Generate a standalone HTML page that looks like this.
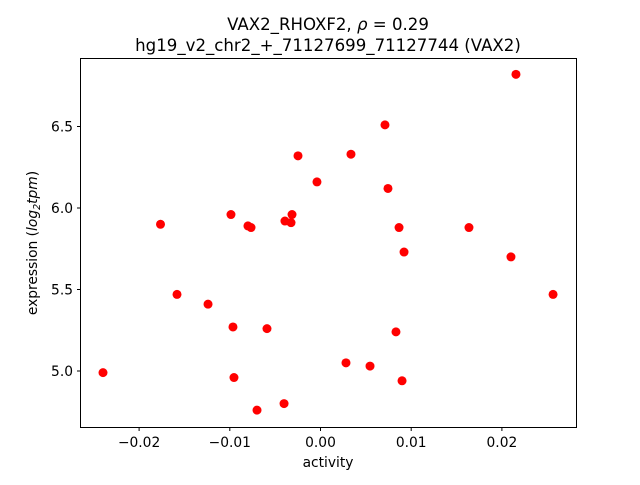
<!DOCTYPE html>
<html><head><meta charset="utf-8"><style>
body{margin:0;background:#fff}
svg text{font-family:"DejaVu Sans","Liberation Sans",sans-serif;fill:#000}
</style></head><body>
<svg id="chart" width="640" height="480" xmlns="http://www.w3.org/2000/svg">
<text x="328" y="30" text-anchor="middle" font-size="16.6">VAX2_RHOXF2, <tspan font-style="italic">ρ</tspan> = 0.29</text>
<text x="328" y="51" text-anchor="middle" font-size="16.6">hg19_v2_chr2_+_71127699_71127744 (VAX2)</text>
<g id="plot"></g>
<rect x="80.5" y="58.5" width="496" height="369" fill="none" stroke="#000" stroke-width="1"/>
<text x="328" y="467" text-anchor="middle" font-size="13.8">activity</text>
<text transform="translate(37,243) rotate(-90)" text-anchor="middle" font-size="13.8">expression (<tspan font-style="italic">log</tspan><tspan font-size="9.5" dy="3" font-style="italic">2</tspan><tspan dy="-3" font-style="italic">tpm</tspan>)</text>
</svg>
<script>
const xVals=[0.02155,0.00711,-0.00248,0.00336,-0.00039,0.00744,-0.01764,-0.00987,-0.0080,-0.00766,-0.00314,-0.00392,-0.00325,0.00866,0.01637,0.02100,0.00921,-0.01582,-0.01240,-0.00965,-0.00590,0.00832,0.02564,-0.02398,-0.00954,0.00281,0.00546,0.00899,-0.0070,-0.00402];
const yVals=[6.82,6.51,6.32,6.33,6.16,6.12,5.90,5.96,5.89,5.88,5.96,5.92,5.91,5.88,5.88,5.70,5.73,5.47,5.41,5.27,5.26,5.24,5.47,4.99,4.96,5.05,5.03,4.94,4.76,4.80];
const xTicks=[-0.02,-0.01,0.00,0.01,0.02];
const xTickLabels=["−0.02","−0.01","0.00","0.01","0.02"];
const yTicks=[5.0,5.5,6.0,6.5];
const yTickLabels=["5.0","5.5","6.0","6.5"];
const NS="http://www.w3.org/2000/svg";
const sx=v=>320.5+v*9070;
const sy=v=>371-(v-5)*163;
const g=document.getElementById('plot');
function mk(t,a){const e=document.createElementNS(NS,t);for(const k in a)e.setAttribute(k,a[k]);g.appendChild(e);return e;}
xTicks.forEach((t,i)=>{
  const x=sx(t);
  const l=mk('line',{x1:x,x2:x,y1:427.5,y2:431,stroke:'#000'});
  
  
  const tx=mk('text',{x:x,y:447,'text-anchor':'middle','font-size':'13.8'});
  tx.textContent=xTickLabels[i];
  
  
});
yTicks.forEach((t,i)=>{
  const y=sy(t);
  const l=mk('line',{x1:77,x2:80.5,y1:y,y2:y,stroke:'#000'});
  
  
  const tx=mk('text',{x:73,y:y+5,'text-anchor':'end','font-size':'13.8'});
  tx.textContent=yTickLabels[i];
  
  
});
xVals.forEach((v,i)=>{
  const c=mk('circle',{cx:sx(v),cy:sy(yVals[i]),r:4.5,fill:'#ff0000'});
  
  
});
</script>
</body></html>
